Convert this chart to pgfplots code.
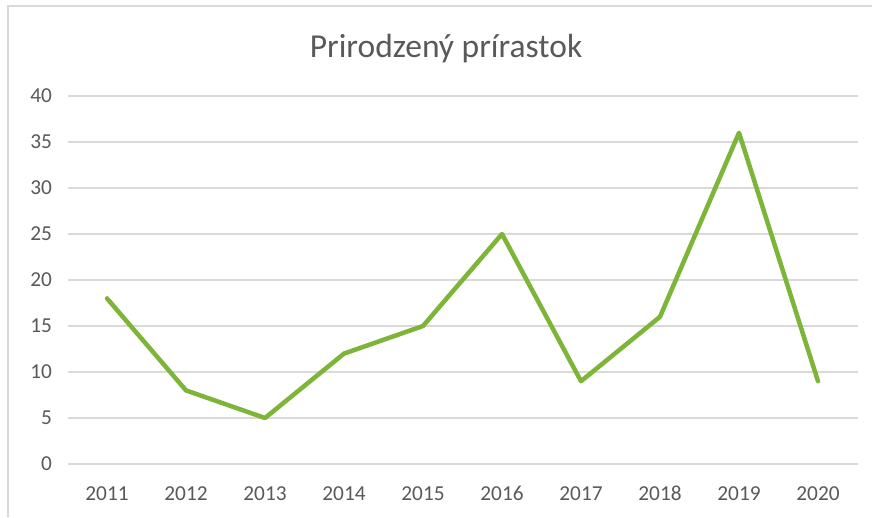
\documentclass[border=0pt]{standalone}
\usepackage{fontspec}
\setmainfont{Carlito}
\usepackage{pgfplots}
\pgfplotsset{compat=1.18}
\definecolor{linegreen}{RGB}{124,181,55}
\definecolor{gridgray}{RGB}{217,217,217}
\definecolor{textgray}{RGB}{89,89,89}
\begin{document}
\begin{tikzpicture}[x=1pt,y=1pt]
\useasboundingbox (0,0) rectangle (872,517);
\fill[white] (0,0) rectangle (872,517);
\draw[gridgray, line width=1.5pt] (8,0) -- (8,511) -- (872,511);
\begin{axis}[
  at={(67.5pt,53pt)}, anchor=south west,
  scale only axis, width=790pt, height=368pt,
  xmin=-0.5, xmax=9.5, ymin=0, ymax=40,
  xtick={0,...,9},
  xticklabels={2011,2012,2013,2014,2015,2016,2017,2018,2019,2020},
  ytick={0,5,...,40},
  axis line style={draw=none},
  major tick length=0pt,
  ymajorgrids, grid style={gridgray, line width=1.2pt},
  tick label style={font=\fontsize{21.3}{24}\selectfont, text=textgray},
  /pgf/number format/assume math mode=true,
  xticklabel style={text height=14pt, text depth=0pt, yshift=-19pt},
  yticklabel style={xshift=-12pt},
  clip=false,
]
\addplot[linegreen, line width=4.5pt, line join=round, line cap=round] coordinates {
(0,18) (1,8) (2,5) (3,12) (4,15) (5,25) (6,9) (7,16) (8,36) (9,9)
};
\end{axis}
\node[text=textgray, font=\fontsize{33.5}{38}\selectfont] at (446,468) {Prirodzený prírastok};
\end{tikzpicture}
\end{document}
